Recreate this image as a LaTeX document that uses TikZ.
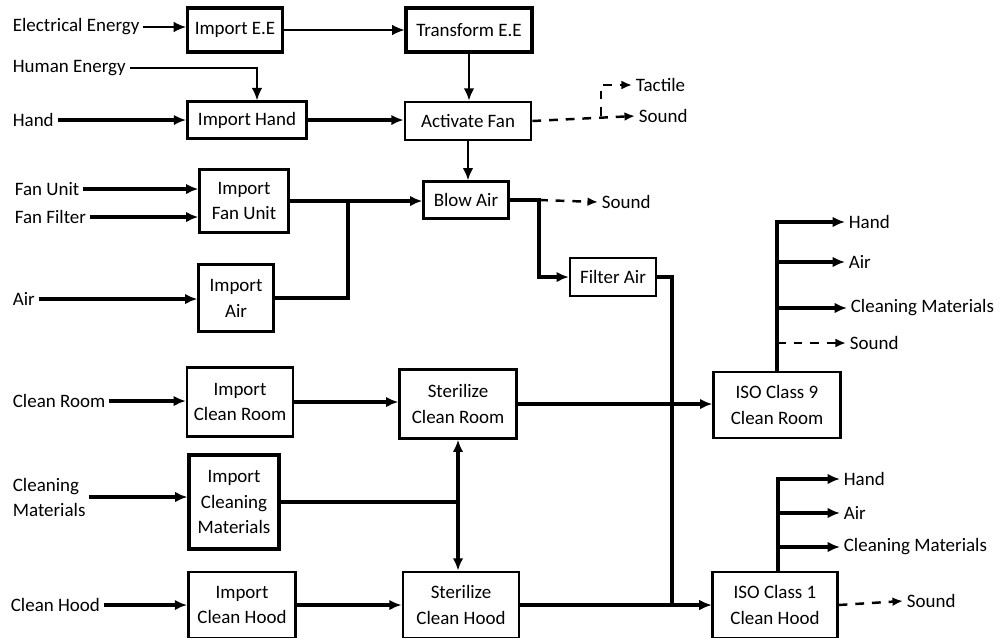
\documentclass[tikz,border=0pt]{standalone}
\usepackage{fontspec}
\setmainfont{Carlito}
\usetikzlibrary{arrows.meta,calc}

\begin{document}
\begin{tikzpicture}[x=0.02cm,y=-0.02cm]
\tikzstyle{block}=[draw,line width=1.3pt,align=center,inner sep=1pt,font=\fontsize{10.8}{14.7}\selectfont]
\tikzstyle{ext}=[anchor=west,inner sep=2pt,align=left,font=\fontsize{10.8}{14.2}\selectfont]
\tikzstyle{flow}=[line width=2pt,-{Latex[length=7pt,width=6pt]}]
\tikzstyle{thinflow}=[line width=0.7pt,-{Latex[length=7pt,width=6pt]}]
\tikzstyle{dashflow}=[line width=1.4pt,dash pattern=on 5pt off 4.5pt,-{Latex[length=6pt,width=5pt]}]
\useasboundingbox (0,0) rectangle (1000,637);

% ========= inputs
\node (elec) [ext] at (9,27) {Electrical Energy};
\node (human) [ext] at (9,68) {Human Energy};
\node (hand) [ext] at (9,120) {Hand};
\node (fanunit) [ext] at (11,189) {Fan Unit};
\node (fanfilter) [ext] at (11,217) {Fan Filter};
\node (air) [ext] at (9,299) {Air};
\node (croom) [ext] at (9,401) {Clean Room};
\node (cmat) [ext] at (9,497) {Cleaning\\Materials};
\node (chood) [ext] at (7,605) {Clean Hood};

% ========= functions
\node (impee) [block,line width=1.8pt,minimum width=1.9cm,minimum height=0.88cm] at (235,30) {Import E.E};
\node (transee) [block,line width=1.8pt,minimum width=2.52cm,minimum height=0.88cm] at (469,30) {Transform E.E};
\node (imphand) [block,line width=1.6pt,minimum width=2.38cm,minimum height=0.74cm] at (247,120) {Import Hand};
\node (actfan) [block,line width=1.6pt,minimum width=2.52cm,minimum height=0.76cm] at (468,121) {Activate Fan};
\node (impfan) [block,minimum width=1.78cm,minimum height=1.26cm] at (244,201) {Import\\Fan Unit};
\node (blowair) [block,minimum width=1.7cm,minimum height=0.74cm] at (466,200) {Blow Air};
\node (impair) [block,minimum width=1.5cm,minimum height=1.34cm] at (236,298) {Import\\Air};
\node (filterair) [block,minimum width=1.72cm,minimum height=0.76cm] at (613,277) {Filter Air};
\node (impcroom) [block,minimum width=2.12cm,minimum height=1.38cm] at (240,402) {Import\\Clean Room};
\node (stercroom) [block,minimum width=2.34cm,minimum height=1.38cm] at (458,404) {Sterilize\\Clean Room};
\node (impcmat) [block,line width=1.8pt,minimum width=1.8cm,minimum height=1.88cm] at (234,502) {Import\\Cleaning\\Materials};
\node (impchood) [block,line width=1.6pt,minimum width=2.14cm,minimum height=1.32cm] at (242,605) {Import\\Clean Hood};
\node (sterchood) [block,line width=1.6pt,minimum width=2.32cm,minimum height=1.32cm] at (461,605) {Sterilize\\Clean Hood};
\node (iso9) [block,minimum width=2.54cm,minimum height=1.32cm] at (777,405) {ISO Class 9\\Clean Room};
\node (iso1) [block,minimum width=2.5cm,minimum height=1.32cm] at (775,605) {ISO Class 1\\Clean Hood};

% ========= outputs
\node (tactile) [ext] at (632,85) {Tactile};
\node (sound1) [ext] at (635,116) {Sound};
\node (sound2) [ext] at (598,202) {Sound};
\node (hand9) [ext] at (845,222) {Hand};
\node (air9) [ext] at (845,262) {Air};
\node (cmat9) [ext] at (847,308) {Cleaning Materials};
\node (sound9) [ext] at (846,343) {Sound};
\node (hand1) [ext] at (840,479) {Hand};
\node (air1) [ext] at (840,513) {Air};
\node (cmat1) [ext] at (840,547) {Cleaning Materials};
\node (sound1b) [ext] at (903,601) {Sound};

\coordinate (fanbr) at (601,116);
\coordinate (airjoin) at (348,201);
\coordinate (blowbend) at (539,200);
\coordinate (filtbend) at (672,277);

% ====== connections
\draw [thinflow] (elec.east) -- (elec.east -| impee.west);
\draw [thinflow] (impee.east) -- (transee.west);
\draw [thinflow] (human.east) -| ([xshift=0.2cm]imphand.north);
\draw [thinflow,line width=1.1pt] (transee.south) -- (transee.south |- actfan.north);
\draw [flow] (hand.east) -- (hand.east -| imphand.west);
\draw [flow] (imphand.east) -- (imphand.east -| actfan.west);
\draw [flow,line width=1.3pt] (actfan.south) -- (actfan.south |- blowair.north);
\draw [flow] (fanunit.east) -- (fanunit.east -| impfan.west);
\draw [flow] (fanfilter.east) -- (fanfilter.east -| impfan.west);
\draw [flow] (impfan.east) -- (impfan.east -| blowair.west);
\draw [line width=2pt] (impair.east) -| (airjoin);
\draw [flow] (air.east) -- (air.east -| impair.west);
\draw [flow] (blowair.east) -- (blowbend) |- (filterair.west);
\draw [flow] (filterair.east) -- (filtbend) |- (iso1.west);
\draw [flow] (croom.east) -- (croom.east -| impcroom.west);
\draw [flow] (impcroom.east) -- (impcroom.east -| stercroom.west);
\draw [flow] (stercroom.east) -- (stercroom.east -| iso9.west);
\draw [flow] (cmat.east) -- (cmat.east -| impcmat.west);
\draw [line width=2pt] (impcmat.east) -- (impcmat.east -| stercroom.south);
\draw [line width=2pt,{Latex[length=7pt,width=6pt]}-{Latex[length=7pt,width=6pt]}] (stercroom.south) -- (stercroom.south |- sterchood.north);
\draw [flow] (chood.east) -- (chood.east -| impchood.west);
\draw [flow] (impchood.east) -- (sterchood.west);
\draw [flow] (sterchood.east) -- (iso1.west);
%% ===== side outputs
\draw [dashflow] (actfan.east) -- (sound1.west);
\draw [dashflow] (fanbr) |- (tactile.west);
\draw [dashflow] (blowbend) -- (sound2.west);
\draw [flow] (iso9.north) |- (hand9.west);
\draw [flow] (iso9.north |- air9.west) -- (air9.west);
\draw [flow] (iso9.north |- cmat9.west) -- (cmat9.west);
\draw [dashflow] (iso9.north |- sound9.west) -- (sound9.west);
\draw [flow] ([xshift=0.06cm]iso1.north) |- (hand1.west);
\draw [flow] ([xshift=0.06cm]iso1.north |- air1.west) -- (air1.west);
\draw [flow] ([xshift=0.06cm]iso1.north |- cmat1.west) -- (cmat1.west);
\draw [dashflow] (iso1.east) -- (sound1b.west);
\end{tikzpicture}
\end{document}
